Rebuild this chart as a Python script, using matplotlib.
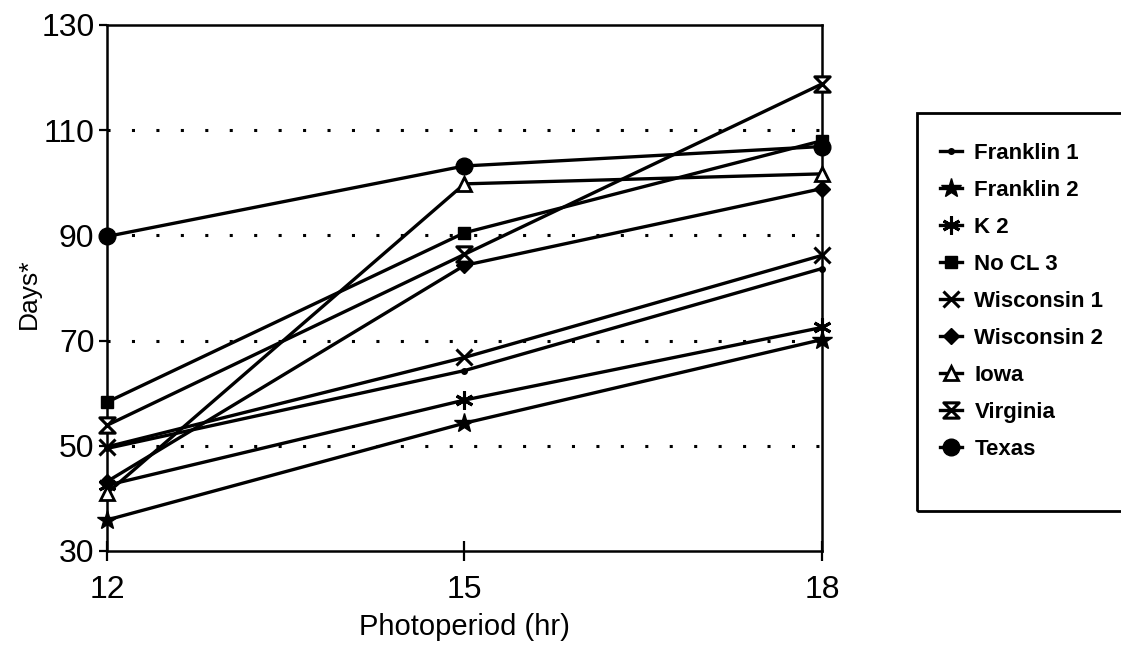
import matplotlib
matplotlib.use("Agg")
import matplotlib.pyplot as plt
from matplotlib.path import Path
from matplotlib.patches import Rectangle

plt.rcParams['font.family'] = ['Liberation Sans', 'DejaVu Sans']

photoperiod = [12, 15, 18]
franklin_1 = [49.5, 64.3, 83.7]
franklin_2 = [35.9, 54.3, 70.2]
k_2 = [42.5, 58.7, 72.5]
no_cl_3 = [58.3, 90.5, 108.0]
wisconsin_1 = [49.8, 66.8, 86.2]
wisconsin_2 = [43.2, 84.3, 98.9]
iowa = [41.0, 99.8, 101.7]
virginia = [53.9, 86.4, 118.8]
texas = [89.8, 103.2, 106.9]

series_names = ["Franklin 1", "Franklin 2", "K 2", "No CL 3", "Wisconsin 1",
                "Wisconsin 2", "Iowa", "Virginia", "Texas"]
series_values = [franklin_1, franklin_2, k_2, no_cl_3, wisconsin_1,
                 wisconsin_2, iowa, virginia, texas]

x_ticks = [12, 15, 18]
y_ticks = [30, 50, 70, 90, 110, 130]
grid_levels = [50, 70, 90, 110]

# hourglass marker: two triangles meeting at their tips
hourglass = Path([(-1, 1), (1, 1), (-1, -1), (1, -1), (-1, 1)],
                 [Path.MOVETO, Path.LINETO, Path.LINETO, Path.LINETO, Path.CLOSEPOLY])

styles = [
    dict(marker='o', markersize=4),
    dict(marker='*', markersize=15),
    dict(marker=(6, 2, 0), markersize=13, markeredgewidth=2.2),
    dict(marker='s', markersize=9),
    dict(marker='x', markersize=12, markeredgewidth=2.2),
    dict(marker='D', markersize=8),
    dict(marker='^', markersize=10, markerfacecolor='white', markeredgewidth=2),
    dict(marker=hourglass, markersize=11, markerfacecolor='white', markeredgewidth=2.2),
    dict(marker='o', markersize=12),
]

W, H = 1121, 653
fig = plt.figure(figsize=(W / 100, H / 100), dpi=100)
ax = fig.add_axes([107 / W, 1 - 551 / H, (822 - 107) / W, (551 - 25) / H])

for lvl in grid_levels:
    ax.axhline(lvl, color='black', linewidth=2.2, linestyle=(0, (1, 7)), zorder=1)

for name, vals, st in zip(series_names, series_values, styles):
    kw = dict(color='black', linewidth=2.4, markeredgecolor='black')
    kw.update(st)
    kw.setdefault('markerfacecolor', 'black')
    ax.plot(photoperiod, vals, label=name, zorder=3, clip_on=False, **kw)

ax.set_xlim(12, 18)
ax.set_ylim(30, 130)
ax.set_xticks(x_ticks)
ax.set_yticks(y_ticks)
ax.tick_params(axis='y', direction='out', length=6, width=1.6, labelsize=23, pad=3)
ax.tick_params(axis='x', direction='inout', length=14, width=1.6, labelsize=23, pad=10)
for sp in ax.spines.values():
    sp.set_linewidth(1.8)

ax.set_xlabel("Photoperiod (hr)", fontsize=21, labelpad=6)
ax.set_ylabel("Days*", fontsize=19)
ax.yaxis.set_label_coords(-0.093, 0.49)

# legend entries without their own frame; a taller box is drawn around them
leg = fig.legend(loc='upper left', bbox_to_anchor=(940 / W, 1 - 143 / H),
                 prop=dict(size=16, weight='bold'), frameon=False,
                 handlelength=1.0, handletextpad=0.55, labelspacing=0.72,
                 borderpad=0.0, borderaxespad=0.0)
fig.add_artist(Rectangle((917 / W, 1 - 511 / H), (1130 - 917) / W, (511 - 113) / H,
                         transform=fig.transFigure, facecolor='none',
                         edgecolor='black', linewidth=2.0, clip_on=False))

fig.savefig("out.png", dpi=100)
